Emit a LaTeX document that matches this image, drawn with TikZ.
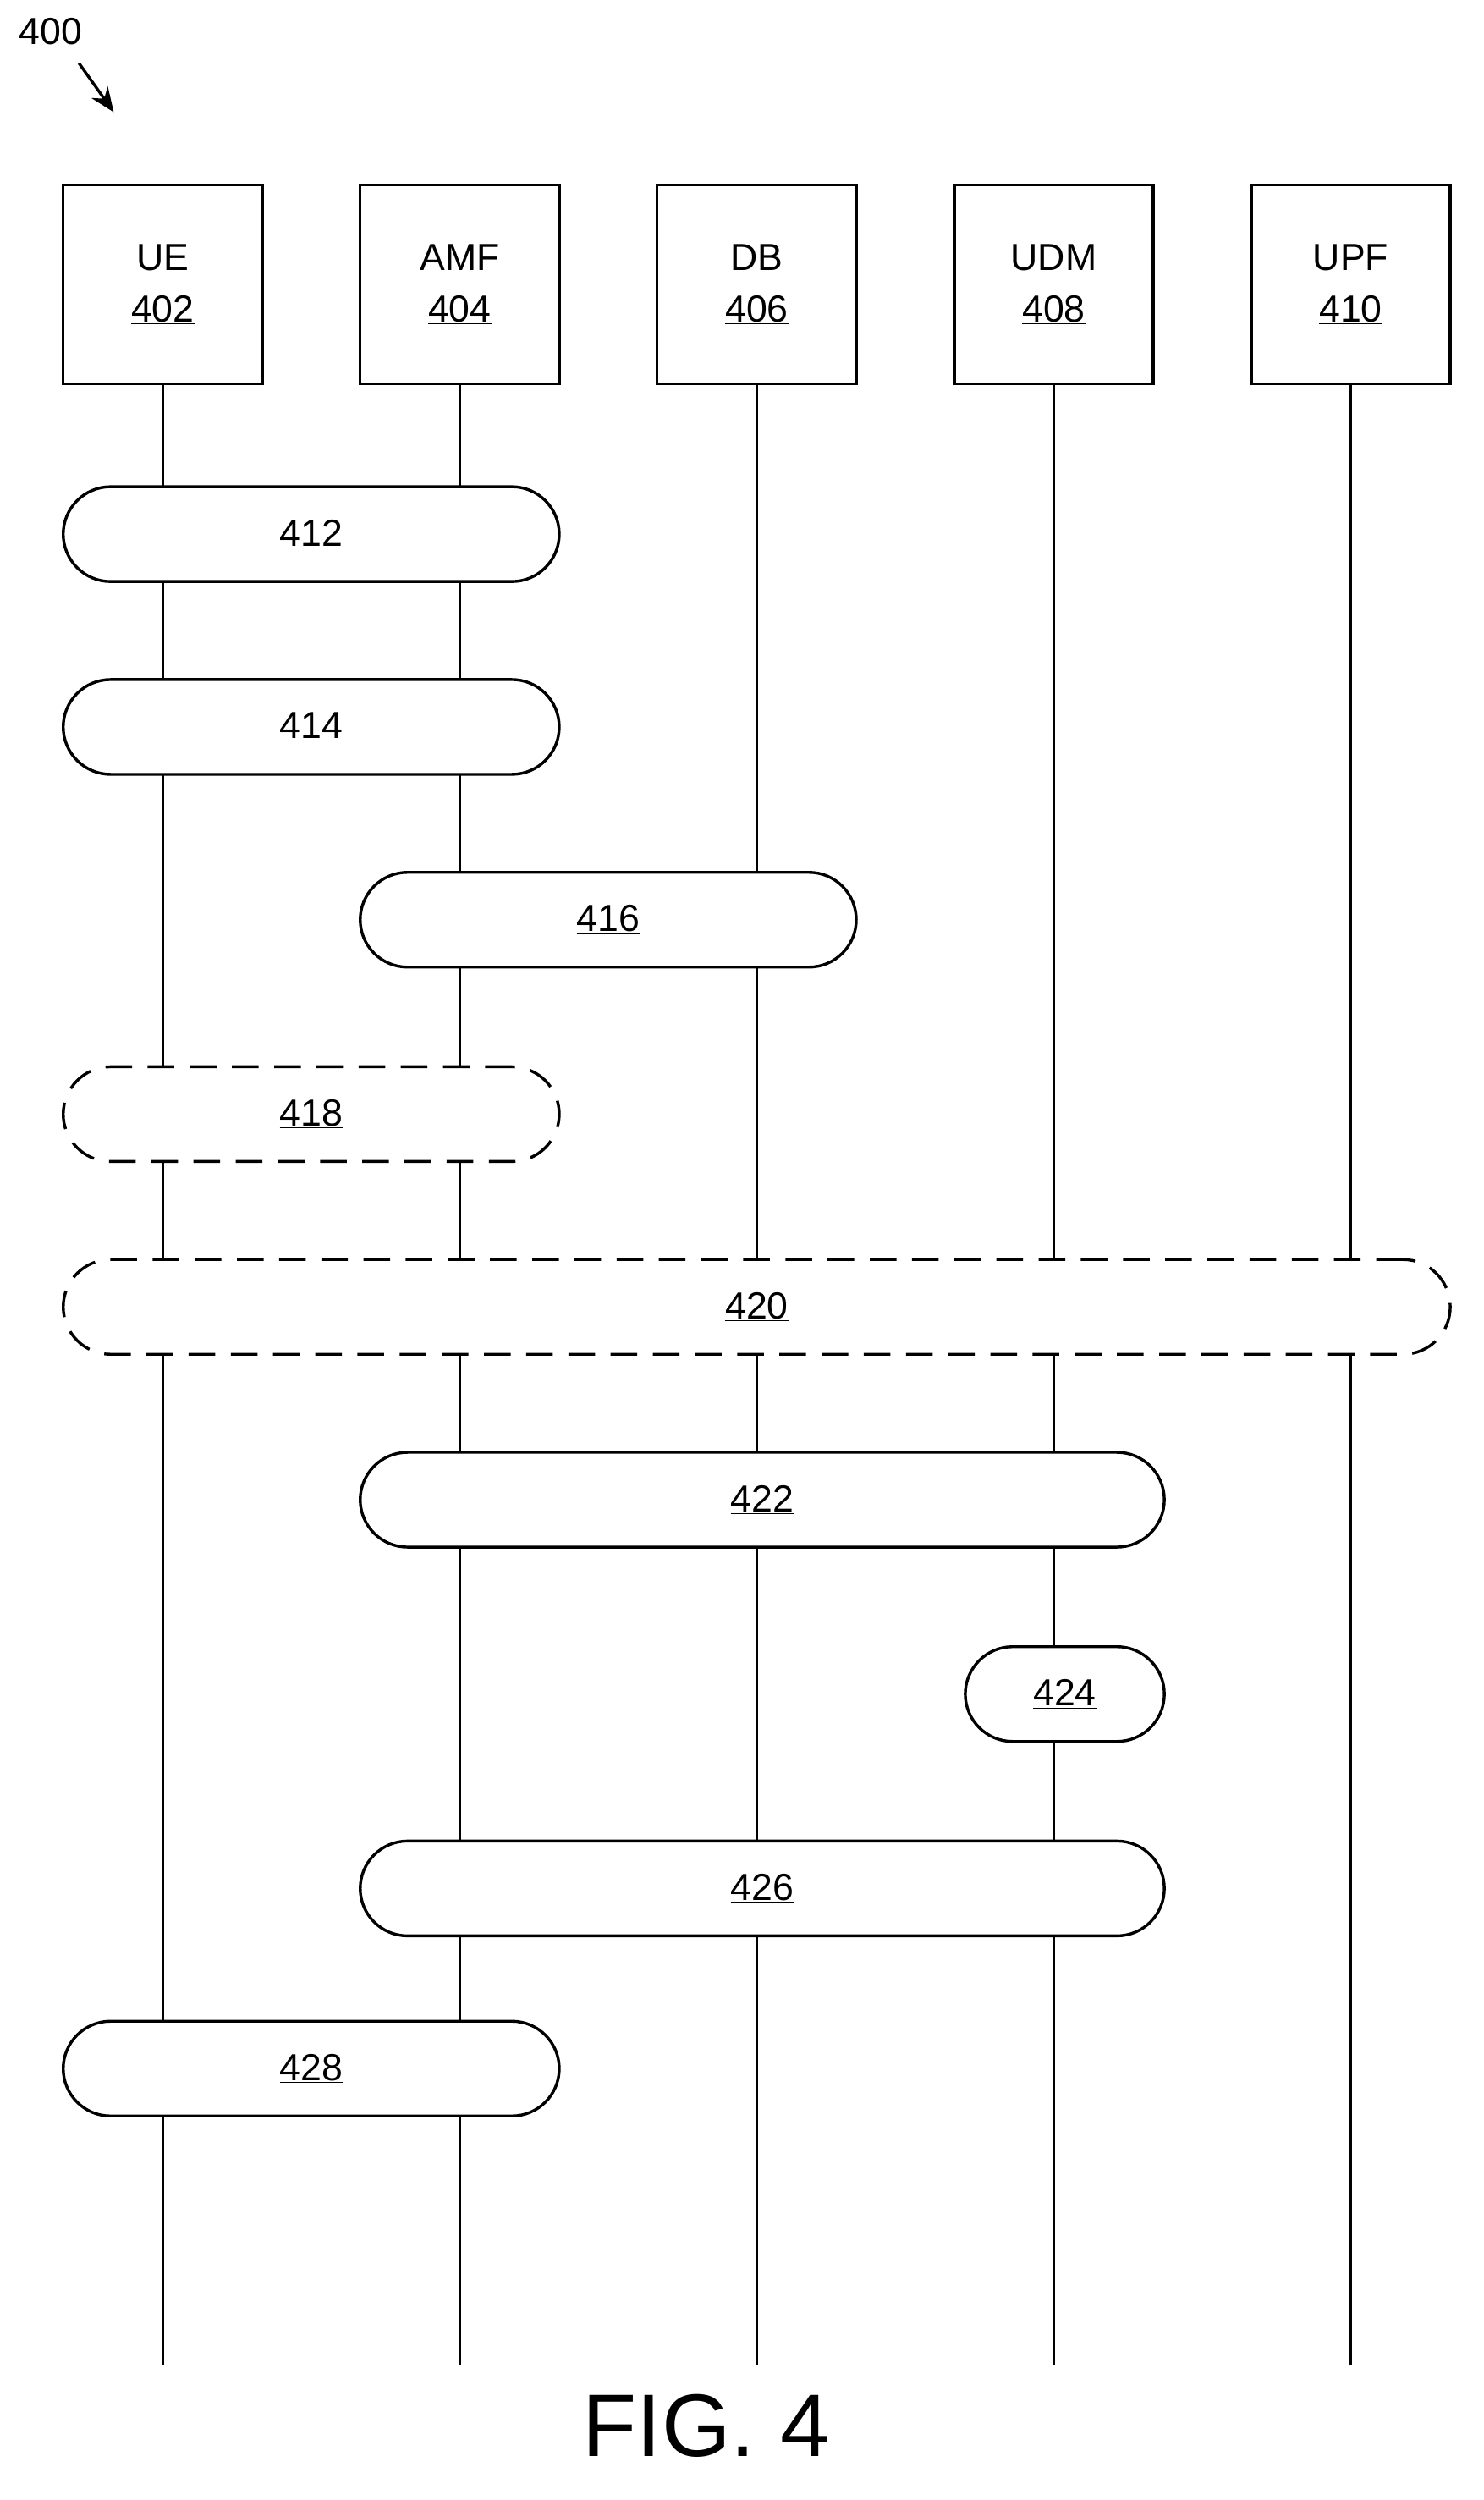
\documentclass[tikz,border=0pt]{standalone}
\usepackage{fontspec}
\setmainfont{Liberation Sans}
\usetikzlibrary{arrows.meta}
\begin{document}
\begin{tikzpicture}[x=0.05cm,y=-0.05cm,
  line width=2.6pt,
  ent/.style={draw,fill=white,minimum width=6.3cm,minimum height=6.3cm,align=center,font=\fontsize{34}{46}\selectfont,inner sep=0pt},
  pill/.style={draw,fill=white,rounded corners=1.5cm,minimum height=3cm,inner sep=0pt,font=\fontsize{34}{40}\selectfont},
  opt/.style={pill,dash pattern=on 24pt off 14pt}]
\useasboundingbox (0,0) rectangle (939,1582);
\node[ent] (ue) at (103,180) {UE\\\underline{402}};
\node[ent] (amf) at (291,180) {AMF\\\underline{404}};
\node[ent] (db) at (479,180) {DB\\\underline{406}};
\node[ent] (udm) at (667,180) {UDM\\\underline{408}};
\node[ent] (upf) at (855,180) {UPF\\\underline{410}};
\foreach \n/\x in {ue/103,amf/291,db/479,udm/667,upf/855}{
  \coordinate (\n end) at (\x,1497);
  \draw (\n.south) -- (\n end);
}
\node[pill,minimum width=15.7cm] (p412) at (197,338) {\underline{412}};
\node[pill,minimum width=15.7cm] (p414) at (197,460) {\underline{414}};
\node[pill,minimum width=15.7cm] (p416) at (385,582) {\underline{416}};
\node[opt,minimum width=15.7cm] (p418) at (197,705) {\underline{418}};
\node[opt,minimum width=43.9cm] (p420) at (479,827) {\underline{420}};
\node[pill,minimum width=25.45cm] (p422) at (482.5,949) {\underline{422}};
\node[pill,minimum width=6.3cm] (p424) at (674,1072) {\underline{424}};
\node[pill,minimum width=25.45cm] (p426) at (482.5,1195) {\underline{426}};
\node[pill,minimum width=15.7cm] (p428) at (197,1309) {\underline{428}};
\node[font=\fontsize{34}{40}\selectfont] (l400) at (32,20) {400};
\coordinate (a400) at (72,71);
\draw[-{Stealth[length=22pt,width=18pt]}] (50,40) -- (a400);
\node[font=\fontsize{80}{90}\selectfont] (fig) at (447,1535) {FIG. 4};
\end{tikzpicture}
\end{document}
